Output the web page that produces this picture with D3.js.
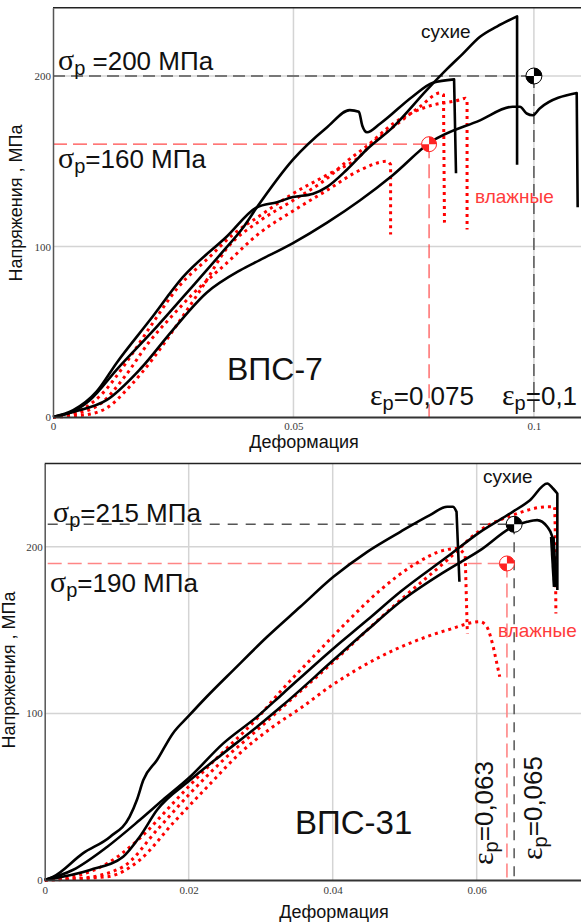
<!DOCTYPE html>
<html lang="ru">
<head>
<meta charset="UTF-8">
<title>ВПС-7 / ВПС-31</title>
<script src="https://d3js.org/d3.v7.min.js"></script>
<style>
  body { margin: 0; background: #fff; }
  svg { display: block; }
  .tick text { font-family: "Liberation Serif", serif; font-size: 11px; fill: #3a3a3a; }
  .lbl { font-family: "Liberation Sans", Arial, sans-serif; fill: #111; }
  .greek { font-family: "Liberation Serif", serif; }
</style>
</head>
<body>
<svg id="chart" width="581" height="922"></svg>
<script>
// ---- ВПС-7 (верхний график): [деформация, напряжение МПа]
const vps7DryA = [[0,0],[0.004,3],[0.0077,10],[0.0133,28],[0.0216,53],[0.0285,75],[0.0353,97],[0.0395,111],[0.0424,123],[0.0499,151],[0.057,170],[0.0617,180],[0.0636,179],[0.0643,171],[0.0653,167],[0.068,172],[0.0748,188],[0.079,196],[0.0834,198],[0.0838,143]];
const vps7DryB = [[0,0],[0.0042,4],[0.0091,15],[0.0133,32],[0.0202,57],[0.027,82],[0.0362,106],[0.0424,123],[0.0466,126],[0.0499,129],[0.0541,131],[0.057,135],[0.0611,145],[0.0653,157],[0.0707,170],[0.0778,192],[0.0819,204],[0.0852,213],[0.0888,223],[0.0923,229],[0.0965,235],[0.0965,148]];
const vps7DryC = [[0,0],[0.0042,3],[0.0112,10],[0.0181,28],[0.0249,51],[0.032,73],[0.0389,86],[0.043,92],[0.0499,102],[0.057,114],[0.0638,127],[0.0707,142],[0.0784,161],[0.0888,174],[0.0956,182],[0.0971,182],[0.0985,178],[0.0998,177],[0.1012,181],[0.1089,190],[0.1091,123]];
const vps7Wet1 = [[0,0],[0.005,2],[0.01,8],[0.015,24],[0.02,44],[0.025,60],[0.029,72],[0.036,90],[0.043,108],[0.05,121],[0.057,133],[0.064,145],[0.0695,150],[0.0702,148],[0.0702,107]];
const vps7Wet2 = [[0,0],[0.005,3],[0.01,13],[0.015,31],[0.02,52],[0.026,76],[0.0326,94],[0.0374,107],[0.043,118],[0.0499,131],[0.057,142],[0.0638,153],[0.0665,161],[0.0707,170],[0.0763,182],[0.0805,190],[0.0812,189],[0.0814,114]];
const vps7Wet3 = [[0,0],[0.006,1],[0.011,5],[0.016,18],[0.021,35],[0.026,55],[0.031,76],[0.0362,99],[0.043,115],[0.0499,127],[0.057,140],[0.0611,150],[0.0653,159],[0.0707,172],[0.0778,182],[0.0846,186],[0.0858,187],[0.0861,185],[0.0861,110]];
const vps7XTicks = [0, 0.05, 0.1];
const vps7YTicks = [0, 100, 200];
const vps7Dry = [0.1, 200];      // точка разрушения, сухие
const vps7Wet = [0.0782, 160];   // влажные

// ---- ВПС-31 (нижний график)
const vps31DryA = [[0,0],[0.0012,2],[0.0053,16],[0.0091,26],[0.0118,38],[0.0128,48],[0.0137,60],[0.0156,72],[0.0178,88],[0.0199,98],[0.0225,110],[0.0262,126],[0.0309,146],[0.0355,164],[0.0401,182],[0.0448,197],[0.0494,209],[0.0535,219],[0.0559,224],[0.0567,224],[0.0572,221],[0.0576,179]];
const vps31DryB = [[0,0],[0.0039,6],[0.0087,20],[0.0132,36],[0.0164,48],[0.0202,62],[0.0248,82],[0.0295,98],[0.0331,112],[0.0401,139],[0.0448,156],[0.0494,173],[0.0559,194],[0.0605,209],[0.065,221],[0.0674,228],[0.0698,238],[0.0706,235],[0.0712,232],[0.0712,174]];
const vps31DryC = [[0,0],[0.0063,6],[0.0109,14],[0.0132,26],[0.0156,42],[0.0202,60],[0.0248,76],[0.0295,92],[0.0331,105],[0.0401,132],[0.0448,150],[0.0494,167],[0.0559,186],[0.0605,198],[0.065,212],[0.067,215],[0.0684,216],[0.0698,212],[0.0705,206],[0.0706,200],[0.0709,176]];
const vps31Wet1 = [[0,0],[0.004,2],[0.0087,10],[0.0132,25],[0.0178,46],[0.0202,57],[0.0248,77],[0.0295,97],[0.0327,113],[0.0373,134],[0.042,155],[0.0466,174],[0.0512,189],[0.0555,198],[0.0573,199],[0.0584,195],[0.0587,148]];
const vps31Wet2 = [[0,0],[0.005,1],[0.0109,8],[0.0156,30],[0.0202,52],[0.0248,72],[0.0295,90],[0.0331,104],[0.0401,131],[0.0448,150],[0.0494,168],[0.0559,192],[0.0605,210],[0.065,219],[0.0698,224],[0.0708,224],[0.0709,212],[0.071,160]];
const vps31Wet3 = [[0,0],[0.0087,2],[0.0132,12],[0.0178,34],[0.0226,56],[0.0271,76],[0.0317,92],[0.0355,103],[0.0396,116],[0.0466,134],[0.0512,143],[0.0559,150],[0.0605,155],[0.0614,152],[0.0623,140],[0.0632,122]];
const vps31XTicks = [0, 0.02, 0.04, 0.06];
const vps31YTicks = [0, 100, 200];
const vps31Dry = [0.0652, 213.5];
const vps31Wet = [0.0642, 190];

const svg = d3.select('#chart');

function drawPanel(p) {
  const x = d3.scaleLinear().domain(p.xDomain).range(p.xRange);
  const y = d3.scaleLinear().domain(p.yDomain).range(p.yRange);
  const g = svg.append('g');
  const [x0, x1] = x.range(), [y0, y1] = y.range();

  // grid
  g.selectAll('.vg').data(p.xTicks.filter(d => d > 0)).join('line')
    .attr('x1', d => x(d)).attr('x2', d => x(d)).attr('y1', y0).attr('y2', y1)
    .attr('stroke', '#d4d4d4').attr('stroke-width', 1.5);
  g.selectAll('.hg').data(p.yTicks.filter(d => d > 0)).join('line')
    .attr('x1', x0).attr('x2', x1).attr('y1', d => y(d)).attr('y2', d => y(d))
    .attr('stroke', '#d4d4d4').attr('stroke-width', 1.5);

  // guide lines to break points
  const guide = (pt, color, w, dash) => {
    g.append('line').attr('x1', x0 + p.guideStart).attr('x2', x(pt[0])).attr('y1', y(pt[1])).attr('y2', y(pt[1]))
      .attr('stroke', color).attr('stroke-width', w).attr('stroke-dasharray', dash);
    g.append('line').attr('x1', x(pt[0])).attr('x2', x(pt[0])).attr('y1', y(pt[1])).attr('y2', y0)
      .attr('stroke', color).attr('stroke-width', w).attr('stroke-dasharray', dash);
  };
  guide(p.dryPt, '#555', 1.5, p.dryDash);
  guide(p.wetPt, p.wetColor, p.wetWidth, '14,6');

  // curves: smooth part + straight drop at the end
  const smooth = d3.line().x(d => x(d[0])).y(d => y(d[1])).curve(d3.curveMonotoneX);
  const curvePath = pts => {
    const last = pts[pts.length - 1];
    return smooth(pts.slice(0, -1)) + 'L' + x(last[0]) + ',' + y(last[1]);
  };
  g.selectAll('.wet').data(p.wet).join('path')
    .attr('d', curvePath).attr('fill', 'none')
    .attr('stroke', '#ff0000').attr('stroke-width', 3).attr('stroke-dasharray', '3,4');
  g.selectAll('.dry').data(p.dry).join('path')
    .attr('d', curvePath).attr('fill', 'none')
    .attr('stroke', '#000').attr('stroke-width', 2.6).attr('stroke-linejoin', 'round');
  if (p.thickDrop) {
    const pts = p.thickDrop, n = pts.length;
    g.append('line')
      .attr('x1', x(pts[n - 3][0])).attr('y1', y(pts[n - 3][1]))
      .attr('x2', x(pts[n - 1][0])).attr('y2', y(pts[n - 1][1]))
      .attr('stroke', '#000').attr('stroke-width', 5);
  }

  // frame and axes
  g.append('line').attr('x1', x0).attr('x2', x1).attr('y1', y1).attr('y2', y1)
    .attr('stroke', '#222').attr('stroke-width', 1.5);
  const ax = g.append('g').attr('transform', `translate(0,${y0})`)
    .call(d3.axisBottom(x).tickValues(p.xTicks).tickSize(0).tickPadding(p.xPad).tickFormat(d => String(d)));
  ax.select('.domain').attr('stroke', '#333').attr('stroke-width', 2);
  const ay = g.append('g').attr('transform', `translate(${x0},0)`)
    .call(d3.axisLeft(y).tickValues(p.yTicks).tickSize(0).tickPadding(2).tickFormat(d => String(d)));
  ay.select('.domain').attr('stroke', '#555').attr('stroke-width', 1.5);

  // break markers
  const marker = (pt, color, r) => {
    const m = g.append('g').attr('transform', `translate(${x(pt[0])},${y(pt[1])})`);
    m.append('circle').attr('r', r).attr('fill', '#fff').attr('stroke', color).attr('stroke-width', 1);
    const arc = d3.arc().innerRadius(0).outerRadius(r);
    m.append('path').attr('d', arc({startAngle: 0, endAngle: Math.PI / 2})).attr('fill', color);
    m.append('path').attr('d', arc({startAngle: Math.PI, endAngle: Math.PI * 1.5})).attr('fill', color);
  };
  marker(p.dryPt, '#000', 8);
  marker(p.wetPt, '#f22', 7.5);

  return g;
}

// text helper: symbol + subscript + rest
function symText(g, xPos, yPos, sym, rest, opt = {}) {
  const t = g.append('text').attr('class', 'lbl');
  if (opt.rotate) t.attr('transform', `translate(${xPos},${yPos}) rotate(-90)`);
  else t.attr('x', xPos).attr('y', yPos);
  t.append('tspan').attr('class', 'greek').attr('font-size', 30).text(sym);
  t.append('tspan').attr('font-size', 20).attr('dy', 5).text('р');
  t.append('tspan').attr('font-size', 26).attr('dy', -5).text(rest);
  return t;
}
function label(g, xPos, yPos, txt, size, color, rot) {
  const t = g.append('text').attr('class', 'lbl').attr('font-size', size).text(txt);
  if (color) t.style('fill', color);
  if (rot) t.attr('text-anchor', 'middle').attr('transform', `translate(${xPos},${yPos}) rotate(-90)`);
  else t.attr('x', xPos).attr('y', yPos);
  return t;
}

const top7 = drawPanel({
  xDomain: [0, 0.11], xRange: [53, 582], yDomain: [0, 240], yRange: [417, 7.8],
  xTicks: vps7XTicks, yTicks: vps7YTicks, xPad: 5,
  dry: [vps7DryA, vps7DryB, vps7DryC], wet: [vps7Wet1, vps7Wet2, vps7Wet3],
  dryPt: vps7Dry, wetPt: vps7Wet, dryDash: '12,6', wetColor: '#ff4a4a', wetWidth: 1.2, guideStart: 0
});
symText(top7, 58, 70, 'σ', ' =200 МПа');
symText(top7, 58, 168, 'σ', '=160 МПа');
symText(top7, 370, 405, 'ε', '=0,075');
symText(top7, 502, 405, 'ε', '=0,1');
label(top7, 421, 38, 'сухие', 19);
label(top7, 475, 203, 'влажные', 19, '#ff3b3b');
label(top7, 227, 380, 'ВПС-7', 32);
label(top7, 304, 448, 'Деформация', 18).attr('text-anchor', 'middle');
label(top7, 22, 203, 'Напряжения , МПа', 18, null, true);

const bot31 = drawPanel({
  xDomain: [0, 0.075], xRange: [44.7, 584.7], yDomain: [0, 250], yRange: [880, 463.5],
  xTicks: vps31XTicks, yTicks: vps31YTicks, xPad: 6,
  dry: [vps31DryA, vps31DryB, vps31DryC], wet: [vps31Wet1, vps31Wet2, vps31Wet3],
  dryPt: vps31Dry, wetPt: vps31Wet, dryDash: '10,8', wetColor: '#ff8585', wetWidth: 1.6, guideStart: 3,
  thickDrop: vps31DryC
});
symText(bot31, 53, 522, 'σ', '=215 МПа');
symText(bot31, 50, 592, 'σ', '=190 МПа');
symText(bot31, 493, 865, 'ε', '=0,063', {rotate: true});
symText(bot31, 542, 860, 'ε', '=0,065', {rotate: true});
label(bot31, 483, 483, 'сухие', 19);
label(bot31, 498, 637, 'влажные', 19, '#ff3b3b');
label(bot31, 295, 834, 'ВПС-31', 33);
label(bot31, 334, 918, 'Деформация', 18).attr('text-anchor', 'middle');
label(bot31, 15, 670, 'Напряжения , МПа', 18, null, true);
</script>
</body>
</html>
